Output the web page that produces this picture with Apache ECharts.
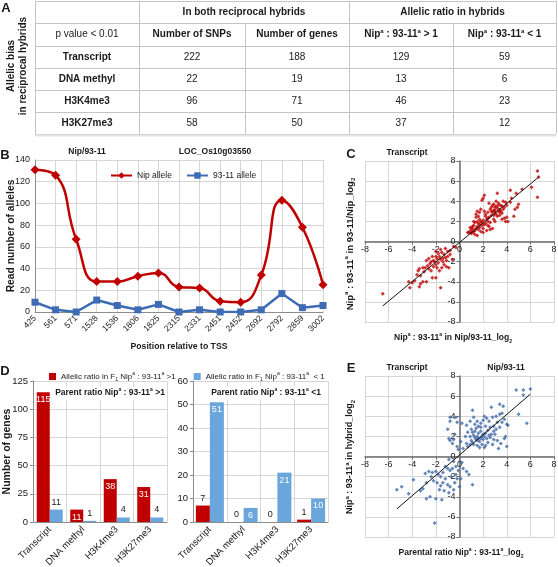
<!DOCTYPE html>
<html><head><meta charset="utf-8">
<script src="https://cdn.jsdelivr.net/npm/echarts@6/dist/echarts.min.js"></script>
<style>html,body{margin:0;padding:0;background:#fff}#c{width:558px;height:567px}</style>
</head><body><div id="c"></div>
<script>
// ---------- Panel A data ----------
const tableRows = ['Transcript', 'DNA methyl', 'H3K4me3', 'H3K27me3'];
const numSNPs = [222, 22, 96, 58];
const numGenes = [188, 19, 71, 50];
const nipGreater = [129, 13, 46, 37];
const nipLess = [59, 6, 23, 12];

// ---------- Panel B data ----------
const bPositions = ['425','561','571','1528','1536','1806','1825','2315','2331','2451','2452','2692','2792','2859','3002'];
const nipAllele = [131, 126, 67, 28, 28, 33, 36, 23, 22, 10, 9, 34, 103, 78, 25];
const allele9311 = [9, 2, 0, 11, 6, 2, 7, 0, 2, 0, 0, 2, 17, 4, 6];

// ---------- Panel C data ----------
const cPoints = [
 [6.6,7.0],[6.7,6.4],[6.1,5.4],[6.6,4.4],[5.3,5.2],[4.3,5.1],[3.2,4.8],[2.1,4.6],[2.0,4.3],[1.9,4.1],
 [1.5,3.0],[1.7,2.9],[1.4,2.7],[5.0,3.7],[4.9,3.4],[4.7,3.2],[4.6,2.5],[4.3,3.9],[4.0,3.6],[4.1,2.0],
 [3.9,2.0],[3.8,2.3],[3.6,2.8],[3.5,3.6],[3.4,3.2],[3.3,3.8],[3.1,4.0],[3.0,3.4],[2.9,3.1],[2.8,2.9],
 [2.8,3.6],[2.7,3.0],[2.7,2.6],[2.9,2.2],[2.5,2.4],[2.4,2.0],[2.3,2.2],[2.2,1.8],[2.3,1.1],[2.0,1.3],
 [1.9,1.6],[1.8,2.0],[1.7,2.2],[1.6,1.8],[1.5,1.5],[1.4,1.3],[1.3,1.1],[1.2,1.0],[1.1,0.9],[1.0,1.2],
 [0.9,1.0],[0.8,0.9],[0.7,0.9],[1.0,0.8],[1.3,0.7],[1.2,1.6],[1.1,1.5],[1.6,2.5],[1.4,2.4],[1.8,3.2],
 [2.1,3.0],[2.2,2.5],[2.5,1.5],[2.6,1.2],[2.8,1.3],[3.0,2.0],[3.2,2.5],[3.3,3.0],[3.5,3.0],[3.6,3.5],
 [3.7,3.2],[3.9,3.9],[3.2,3.3],[3.0,2.9],[3.1,3.5],[2.9,3.7],[3.4,2.6],[3.6,2.2],[4.0,2.4],[2.0,2.1],
 [1.9,1.9],[2.1,1.7],[1.7,1.4],[1.6,1.2],[1.8,1.0],[2.4,1.6],[2.6,1.9],[1.5,2.0],[1.3,1.9],[1.2,2.0],
 [1.7,1.7],[2.2,2.7],[2.4,2.9],[2.6,3.2],[2.7,3.4],[3.0,3.1],[3.3,3.6],[3.8,3.4],[3.4,2.9],[2.0,0.9],
 [1.5,0.6],[0.9,1.4],[1.1,1.3],[2.9,2.6],[3.1,2.7],[2.4,2.3],[4.4,4.3],[4.8,4.8],[3.7,4.0],[2.5,3.8],
 [-6.5,-5.2],[-4.2,-4.6],[-1.6,-4.6],[-4.0,-4.1],[-3.8,-3.9],[-3.4,-4.5],[-3.1,-4.0],[-2.8,-4.0],[-3.3,-4.2],[-2.3,-3.6],
 [-2.0,-3.6],[-3.6,-3.3],[-3.3,-3.4],[-3.0,-3.0],[-3.5,-2.9],[-3.4,-2.7],[-2.9,-2.6],[-2.6,-2.7],[-2.5,-2.2],[-2.7,-2.4],
 [-2.4,-2.9],[-2.2,-2.5],[-2.0,-2.3],[-1.8,-2.1],[-2.1,-2.0],[-1.9,-1.7],[-1.6,-1.8],[-1.4,-1.7],[-1.2,-1.6],[-1.0,-1.5],
 [-1.3,-2.3],[-1.1,-2.5],[-0.9,-2.6],[-1.5,-2.6],[-1.7,-2.9],[-2.6,-1.7],[-2.3,-1.5],[-2.0,-1.5],[-1.8,-1.2],[-1.5,-1.1],
 [-1.3,-1.3],[-1.0,-1.0],[-0.8,-0.9],[-1.6,-0.8],[-2.0,-1.0],[-1.2,-0.7],[-0.5,-0.5],[-0.3,-0.6],[-0.6,-1.8],[-1.9,-2.6],
 [-2.8,-1.9],[-3.1,-2.6],[-2.2,-1.9],[-1.7,-1.5],[-1.4,-2.0],[-2.4,-2.0],[-1.1,-1.9],[-0.8,-1.3],[-4.3,-4.0]
];
const cFitLine = [[-6.5,-6.4],[6.7,6.4]];

// ---------- Panel D data ----------
const dCategories = ['Transcript', 'DNA methyl', 'H3K4me3', 'H3K27me3'];
const dLeftRed = [115, 11, 38, 31];
const dLeftBlue = [11, 1, 4, 4];
const dRightRed = [7, 0, 0, 1];
const dRightBlue = [51, 6, 21, 10];

// ---------- Panel E data ----------
const ePoints = [
 [4.8,6.6],[5.4,6.6],[6.0,6.7],[5.4,6.1],[5.0,4.2],[5.7,3.3],[3.4,5.2],[3.7,5.0],[2.7,4.9],[1.1,4.6],
 [-0.3,3.9],[-0.8,3.9],[-0.8,3.5],[-0.2,3.4],[0.2,3.3],[0.6,3.1],[0.9,3.5],[1.2,3.9],[1.5,3.5],[1.8,3.3],
 [2.0,3.6],[2.1,4.0],[2.3,3.8],[2.5,3.5],[2.8,3.9],[3.1,4.0],[3.4,4.2],[3.6,4.3],[3.8,3.7],[3.6,3.4],
 [4.0,3.2],[4.1,3.1],[3.4,2.9],[3.1,2.7],[2.9,2.5],[2.7,2.2],[2.9,1.7],[3.2,1.6],[3.5,1.3],[3.3,0.8],
 [4.0,1.0],[3.8,1.8],[3.9,2.0],[2.6,1.9],[2.4,1.4],[2.2,1.1],[2.1,0.9],[1.9,1.2],[1.7,1.5],[1.6,1.8],
 [1.5,2.0],[1.4,1.7],[1.3,1.9],[1.2,2.1],[1.1,2.4],[1.0,2.7],[1.3,2.5],[1.6,2.3],[1.8,2.5],[1.9,2.0],
 [2.0,1.7],[2.2,2.3],[2.4,2.6],[2.6,2.9],[2.2,3.0],[1.8,2.9],[1.4,2.8],[1.1,1.4],[0.9,1.2],[0.7,1.0],
 [0.6,1.3],[0.5,2.0],[0.7,2.4],[0.9,2.0],[1.0,1.6],[1.2,1.2],[1.5,1.1],[1.7,0.9],[2.0,2.2],[2.3,1.8],
 [2.5,2.1],[-0.5,1.7],[-0.2,1.0],[-0.6,1.3],[-0.8,1.6],[-1.0,2.7],[-0.9,1.8],[-0.4,2.2],[0.1,1.5],[0.3,0.8],
 [-0.1,0.7],[2.8,1.2],[3.0,2.2],[3.2,3.4],[2.9,3.0],[1.6,3.0],[1.3,3.2],[1.5,1.6],[1.8,1.8],[2.1,2.0],
 [-5.3,-3.3],[-4.9,-3.0],[-4.3,-3.7],[-3.9,-2.3],[-3.3,-3.4],[-2.8,-4.2],[-2.5,-4.0],[-1.5,-4.3],[-2.1,-6.6],[-2.8,-2.6],
 [-2.6,-1.5],[-2.3,-1.6],[-2.0,-1.5],[-1.8,-1.8],[-1.6,-2.0],[-1.4,-1.6],[-1.2,-2.2],[-1.0,-2.8],[-0.8,-3.0],[-0.5,-3.3],
 [-0.4,-2.6],[-0.2,-2.2],[0.1,-2.2],[0.3,-1.2],[0.6,-1.5],[0.8,-1.8],[1.1,-2.8],[-0.1,-1.4],[-0.3,-1.0],[-0.6,-1.2],
 [-0.8,-1.4],[-1.0,-1.2],[-1.2,-1.0],[-0.5,-0.5],[-0.9,-0.3],[-2.2,-2.4],[-2.4,-2.0],[-1.9,-2.6],[-1.6,-2.9],[-1.3,-3.4],
 [-0.9,-3.6],[-2.9,-1.7],[-3.1,-3.2],[-1.7,-3.3],[-1.4,-2.6],[-0.7,-2.0],[-0.3,-1.8],[0.2,-0.6],[0.0,-3.0],[-2.0,-4.2]
];
const eFitLine = [[-5.3,-5.2],[6.0,6.2]];

// ---------- styling ----------
const FONT = '"Liberation Sans", Arial, sans-serif';
const TXT = '#1a1a1a';
const GRIDC = '#d6d6d6';
const RED = '#C00000';
const BLUE_LINE = '#3E6CB4';
const BLUE_BAR = '#6AA5DC';
const BLUE_DOT = '#3F68A8';

function richSet(size, bold) {
  const w = bold ? 'bold' : 'normal';
  const s = Math.max(5, Math.round(size * 0.62));
  return {
    n: {fontFamily: FONT, fontSize: size, fontWeight: w, color: TXT, lineHeight: size + 3},
    sup: {fontFamily: FONT, fontSize: s, fontWeight: w, color: TXT, lineHeight: s + 1, verticalAlign: 'top'},
    sub: {fontFamily: FONT, fontSize: s, fontWeight: w, color: TXT, lineHeight: s + 1, verticalAlign: 'bottom'}
  };
}
function txt(x, y, text, opts) {
  opts = opts || {};
  const size = opts.size || 10;
  const st = {
    text: text, fill: opts.color || TXT,
    font: (opts.bold ? 'bold ' : '') + size + 'px ' + FONT,
    align: opts.align || 'center', verticalAlign: 'middle',
    rich: opts.rich ? richSet(size, opts.bold) : undefined
  };
  if (opts.bg) { st.backgroundColor = opts.bg; st.padding = [1, 2]; }
  return {type: 'text', x: x, y: y, rotation: opts.rot || 0, silent: true, z: 10, style: st};
}

// ---------- table (panel A) ----------
const colX = [35, 139, 245, 349, 453, 556];
const rowY = [1, 23, 46, 68, 90, 112, 134];
const graphic = [];
const lineC = '#c4c4c4';
rowY.forEach(y => graphic.push({type: 'line', silent: true, shape: {x1: colX[0], y1: y + 0.5, x2: colX[5], y2: y + 0.5}, style: {stroke: lineC, lineWidth: 1}}));
[[0, 0], [1, 0], [2, 1], [3, 0], [4, 1], [5, 0]].forEach(([ci, ri]) => graphic.push({type: 'line', silent: true, shape: {x1: colX[ci] + 0.5, y1: rowY[ri], x2: colX[ci] + 0.5, y2: rowY[6]}, style: {stroke: lineC, lineWidth: 1}}));
graphic.push({type: 'line', silent: true, shape: {x1: colX[0], y1: rowY[6] + 1.5, x2: colX[5], y2: rowY[6] + 1.5}, style: {stroke: '#e4e4e4', lineWidth: 2}});
const cx = i => (colX[i] + colX[i + 1]) / 2;
const cy = i => (rowY[i] + rowY[i + 1]) / 2;
graphic.push(txt((colX[1] + colX[3]) / 2, cy(0), 'In both reciprocal hybrids', {bold: true}));
graphic.push(txt((colX[3] + colX[5]) / 2, cy(0), 'Allelic ratio in hybrids', {bold: true}));
graphic.push(txt(cx(0), cy(1), 'p value < 0.01'));
graphic.push(txt(cx(1), cy(1), 'Number of SNPs', {bold: true}));
graphic.push(txt(cx(2), cy(1), 'Number of genes', {bold: true}));
graphic.push(txt(cx(3), cy(1), '{n|Nip}{sup|a}{n| : 93-11}{sup|a}{n| > 1}', {bold: true, rich: true}));
graphic.push(txt(cx(4), cy(1), '{n|Nip}{sup|a}{n| : 93-11}{sup|a}{n| < 1}', {bold: true, rich: true}));
tableRows.forEach((r, i) => {
  const y = cy(i + 2);
  graphic.push(txt(cx(0), y, r, {bold: true}));
  graphic.push(txt(cx(1), y, String(numSNPs[i])));
  graphic.push(txt(cx(2), y, String(numGenes[i])));
  graphic.push(txt(cx(3), y, String(nipGreater[i])));
  graphic.push(txt(cx(4), y, String(nipLess[i])));
});
graphic.push(txt(11, 66, 'Allelic bias', {bold: true, rot: Math.PI / 2}));
graphic.push(txt(23, 66, 'in reciprocal hybrids', {bold: true, rot: Math.PI / 2}));

// panel letters & titles
graphic.push(txt(6, 8, 'A', {bold: true, size: 13}));
graphic.push(txt(5, 155, 'B', {bold: true, size: 13}));
graphic.push(txt(87, 152, 'Nip/93-11', {bold: true, size: 8.5}));
graphic.push(txt(215, 152, 'LOC_Os10g03550', {bold: true, size: 8.5}));
graphic.push(txt(351, 154, 'C', {bold: true, size: 13}));
graphic.push(txt(407, 153, 'Transcript', {bold: true, size: 8.5}));
graphic.push(txt(5, 371, 'D', {bold: true, size: 13}));
graphic.push(txt(351, 368, 'E', {bold: true, size: 13}));
graphic.push(txt(407, 368, 'Transcript', {bold: true, size: 8.5}));
graphic.push(txt(506, 368, 'Nip/93-11', {bold: true, size: 8.5}));
graphic.push(txt(110, 393, '{n|Parent ratio Nip}{sup|a}{n| : 93-11}{sup|a}{n| >1}', {bold: true, rich: true, size: 8.5, bg: '#fff'}));
graphic.push(txt(266, 393, '{n|Parent ratio Nip}{sup|a}{n| : 93-11}{sup|a}{n| <1}', {bold: true, rich: true, size: 8.5, bg: '#fff'}));
// scatter axis names
graphic.push(txt(453, 338, '{n|Nip}{sup|a}{n| : 93-11}{sup|a}{n| in Nip/93-11_log}{sub|2}', {bold: true, rich: true, size: 8.5}));
graphic.push(txt(350, 244, '{n|Nip}{sup|a}{n| : 93-11}{sup|a}{n| in 93-11/Nip_log}{sub|2}', {bold: true, rich: true, rot: Math.PI / 2, size: 9.5}));
graphic.push(txt(461, 553, '{n|Parental ratio Nip}{sup|a}{n| : 93-11}{sup|a}{n|_log}{sub|2}', {bold: true, rich: true, size: 8.5}));
graphic.push(txt(350, 457, '{n|Nip}{sup|a}{n| : 93-11}{sup|a}{n| in hybrid_log}{sub|2}', {bold: true, rich: true, rot: Math.PI / 2, size: 9}));

const axLabel = {fontFamily: FONT, fontSize: 9, color: TXT};
const splitL = {show: true, lineStyle: {color: GRIDC, width: 1}};
const SC_W = 189, SC_H = 161;

function scatterX(gi) {
  return {type: 'value', gridIndex: gi, min: -8, max: 8, interval: 2, position: 'bottom', offset: -SC_H / 2,
    axisLine: {onZero: false, lineStyle: {color: '#6e6e6e', width: 1.5}},
    axisTick: {show: true, length: 3, lineStyle: {color: '#6e6e6e'}},
    axisLabel: Object.assign({}, axLabel, {margin: 4}),
    splitLine: splitL};
}
function scatterY(gi) {
  return {type: 'value', gridIndex: gi, min: -8, max: 8, interval: 2, position: 'left', offset: -SC_W / 2,
    axisLine: {onZero: false, lineStyle: {color: '#6e6e6e', width: 1.5}},
    axisTick: {show: true, length: 3, lineStyle: {color: '#6e6e6e'}},
    axisLabel: Object.assign({}, axLabel, {margin: 4}),
    splitLine: splitL};
}
function barX(gi) {
  return {type: 'category', gridIndex: gi, data: dCategories,
    axisLine: {lineStyle: {color: '#8c8c8c'}}, axisTick: {show: false},
    axisLabel: Object.assign({}, axLabel, {fontSize: 9.5, rotate: 45, margin: 6}),
    splitLine: splitL};
}
function barY(gi, max, interval, name) {
  return {type: 'value', gridIndex: gi, min: 0, max: max, interval: interval,
    name: name, nameLocation: 'middle', nameGap: 20, nameRotate: 90, nameMoveOverlap: false,
    nameTextStyle: {fontFamily: FONT, fontSize: 10.5, fontWeight: 'bold', color: TXT},
    axisLine: {show: true, lineStyle: {color: '#8c8c8c'}}, axisTick: {show: true, length: 3, lineStyle: {color: '#8c8c8c'}},
    axisLabel: Object.assign({}, axLabel, {fontSize: 9.5, margin: 5}), splitLine: splitL};
}
const insideLbl = {show: true, position: 'insideTop', distance: 3, color: '#fff', fontFamily: FONT, fontSize: 9};
const topLbl = {show: true, position: 'top', distance: 3, color: TXT, fontFamily: FONT, fontSize: 9};
const D_RED_NAME = 'F1 ratio >1';
const D_BLUE_NAME = 'F1 ratio <1';
const gridBase = {outerBoundsMode: 'none', containLabel: false};

const option = {
  animation: false,
  backgroundColor: '#fff',
  textStyle: {fontFamily: FONT},
  graphic: graphic,
  legend: [
    {data: ['Nip allele', '93-11 allele'], left: 105, top: 166, itemWidth: 21, itemHeight: 8, itemGap: 14,
     textStyle: {fontFamily: FONT, fontSize: 8.5, color: TXT}},
    {data: [D_RED_NAME, D_BLUE_NAME], left: 44, top: 366, itemWidth: 7, itemHeight: 7, itemGap: 18, icon: 'rect',
     formatter: n => n === D_RED_NAME
        ? '{n|Allelic ratio in F}{sub|1}{n| Nip}{sup|a}{n| : 93-11}{sup|a}{n| >1}'
        : '{n|Allelic ratio in F}{sub|1}{n| Nip}{sup|a}{n| : 93-11}{sup|a}{n|  < 1}',
     textStyle: {fontFamily: FONT, fontSize: 8, color: TXT, rich: richSet(8, false)}}
  ],
  grid: [
    Object.assign({left: 35, top: 160, width: 288, height: 152}, gridBase),
    Object.assign({left: 365, top: 161, width: SC_W, height: SC_H}, gridBase),
    Object.assign({left: 33, top: 381, width: 134, height: 141}, gridBase),
    Object.assign({left: 193, top: 381, width: 135, height: 141}, gridBase),
    Object.assign({left: 365, top: 376, width: SC_W, height: SC_H}, gridBase)
  ],
  xAxis: [
    {type: 'category', gridIndex: 0, data: bPositions, boundaryGap: false,
     name: 'Position relative to TSS', nameLocation: 'middle', nameGap: 30,
     nameTextStyle: {fontFamily: FONT, fontSize: 8.7, fontWeight: 'bold', color: TXT},
     axisLine: {lineStyle: {color: '#8c8c8c'}}, axisTick: {show: false},
     axisLabel: Object.assign({}, axLabel, {fontSize: 8.5, rotate: 45, margin: 5, interval: 0}),
     splitLine: Object.assign({}, splitL, {interval: 0})},
    scatterX(1), barX(2), barX(3), scatterX(4)
  ],
  yAxis: [
    {type: 'value', gridIndex: 0, min: 0, max: 140, interval: 20,
     name: 'Read number of alleles', nameLocation: 'middle', nameGap: 19, nameRotate: 90, nameMoveOverlap: false,
     nameTextStyle: {fontFamily: FONT, fontSize: 10.3, fontWeight: 'bold', color: TXT},
     axisLine: {show: true, lineStyle: {color: '#8c8c8c'}}, axisTick: {show: false},
     axisLabel: Object.assign({}, axLabel, {margin: 5}), splitLine: splitL},
    scatterY(1),
    barY(2, 125, 25, 'Number of genes'),
    barY(3, 60, 10, ''),
    scatterY(4)
  ],
  series: [
    {name: 'Nip allele', type: 'line', xAxisIndex: 0, yAxisIndex: 0, data: nipAllele, smooth: 0.5,
     symbol: 'diamond', symbolSize: 9, color: RED, lineStyle: {width: 2.5, color: RED}, itemStyle: {color: RED}, z: 3},
    {name: '93-11 allele', type: 'line', xAxisIndex: 0, yAxisIndex: 0, data: allele9311,
     symbol: 'rect', symbolSize: 7, color: BLUE_LINE, lineStyle: {width: 2.5, color: BLUE_LINE}, itemStyle: {color: BLUE_LINE}, z: 2},
    {type: 'scatter', xAxisIndex: 1, yAxisIndex: 1, data: cPoints, symbol: 'diamond', symbolSize: 4, itemStyle: {color: RED}},
    {type: 'line', xAxisIndex: 1, yAxisIndex: 1, data: cFitLine, symbol: 'none', lineStyle: {color: '#111', width: 1}, z: 4},
    {name: D_RED_NAME, type: 'bar', xAxisIndex: 2, yAxisIndex: 2, data: dLeftRed, barWidth: 13, barGap: '0%', itemStyle: {color: RED}, label: insideLbl},
    {name: D_BLUE_NAME, type: 'bar', xAxisIndex: 2, yAxisIndex: 2, data: dLeftBlue, barWidth: 13, barGap: '0%', itemStyle: {color: BLUE_BAR}, label: topLbl},
    {name: D_RED_NAME, type: 'bar', xAxisIndex: 3, yAxisIndex: 3, data: dRightRed, barWidth: 14, barGap: '0%', itemStyle: {color: RED}, label: topLbl},
    {name: D_BLUE_NAME, type: 'bar', xAxisIndex: 3, yAxisIndex: 3, data: dRightBlue, barWidth: 14, barGap: '0%', itemStyle: {color: BLUE_BAR}, label: insideLbl},
    {type: 'scatter', xAxisIndex: 4, yAxisIndex: 4, data: ePoints, symbol: 'diamond', symbolSize: 4, itemStyle: {color: BLUE_DOT}},
    {type: 'line', xAxisIndex: 4, yAxisIndex: 4, data: eFitLine, symbol: 'none', lineStyle: {color: '#111', width: 1}, z: 4}
  ]
};
const chart = echarts.init(document.getElementById('c'));
chart.setOption(option);
</script>
</body></html>
